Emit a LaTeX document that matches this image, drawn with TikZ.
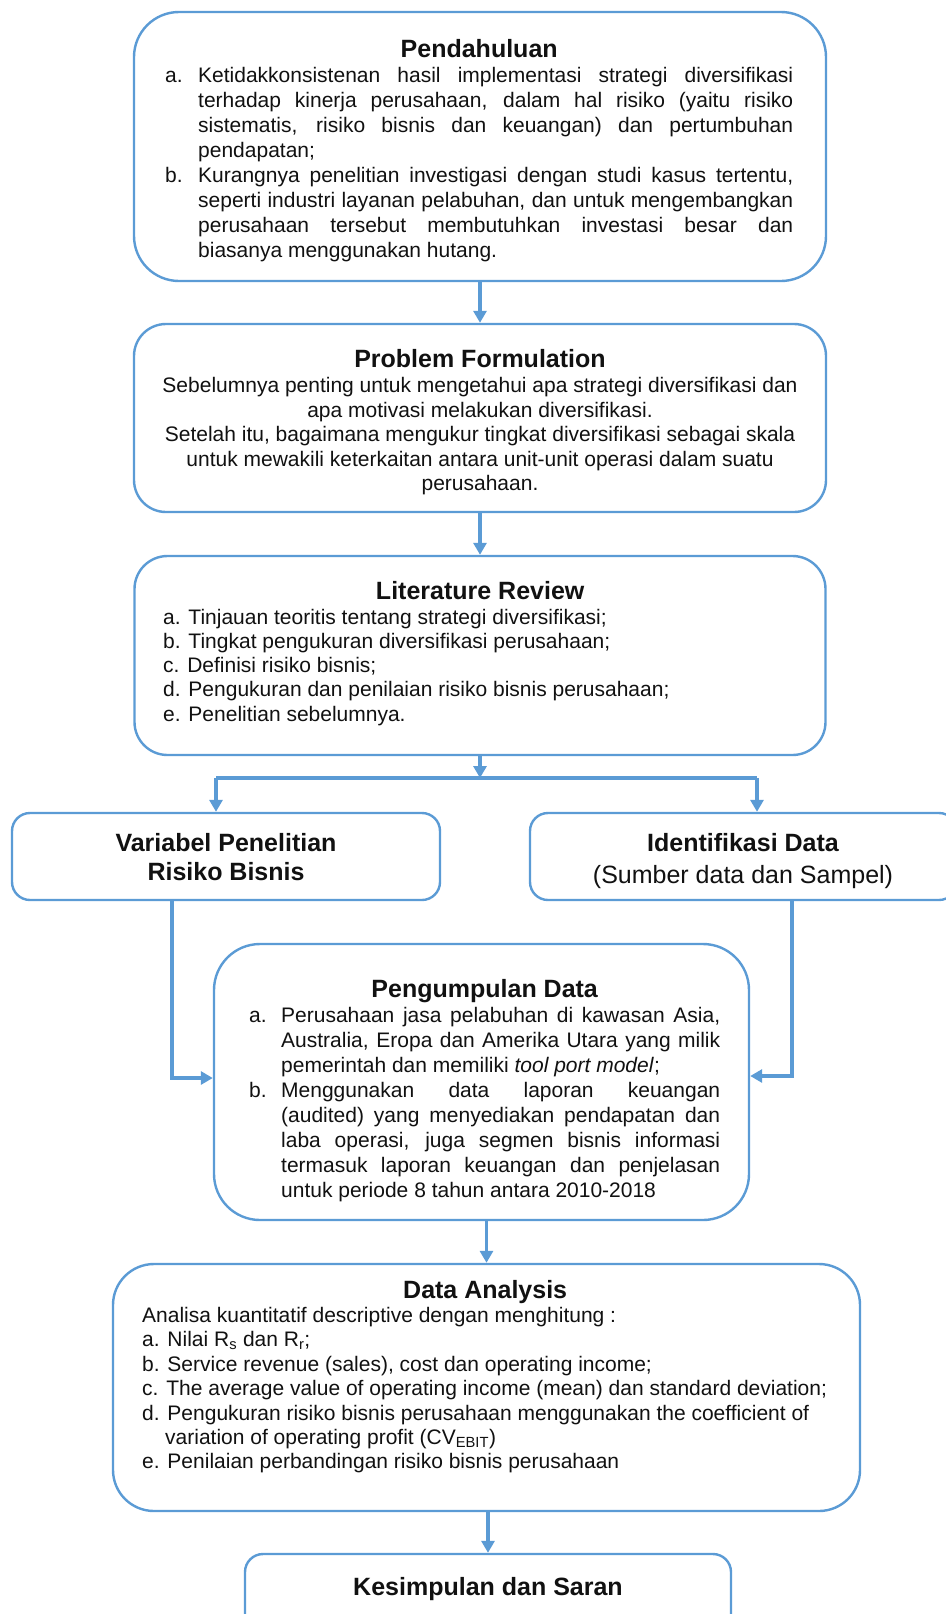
\documentclass[tikz,border=0pt]{standalone}
\usepackage{fontspec}
\setmainfont{Liberation Sans}
\usetikzlibrary{arrows.meta,calc}
\definecolor{wblue}{HTML}{5B9BD5}
\definecolor{ink}{HTML}{111111}
\newcommand{\tfont}{\fontsize{25}{29}\selectfont\bfseries}
\newcommand{\bfnt}[1]{\fontsize{21}{#1}\selectfont}
\newcommand{\litem}[2]{\par\hangindent=#1\hangafter=1\noindent\makebox[#1][l]{#2}}
\newcommand{\ttl}[1]{{\centering\tfont #1\par}}
\tikzset{
  box/.style={draw=wblue, line width=2.4pt, fill=white, inner sep=0pt},
  txt/.style={inner sep=0pt, text=ink},
  arr/.style={draw=wblue, line width=3.2pt, -{Triangle[length=12pt,width=13pt]}},
  lin/.style={draw=wblue, line width=3.2pt}
}
\begin{document}
\begin{tikzpicture}[x=1pt,y=-1pt]
\useasboundingbox (0,0) rectangle (945,1614);
% boxes
\node[box, minimum width=692pt, minimum height=269pt, rounded corners=45pt] (b1) at (480,146.5) {};
\node[box, minimum width=692pt, minimum height=188pt, rounded corners=32pt] (b2) at (480,418) {};
\node[box, minimum width=691pt, minimum height=199pt, rounded corners=33pt] (b3) at (480,655.5) {};
\node[box, minimum width=428pt, minimum height=87pt, rounded corners=18pt] (b4) at (226,856.5) {};
\node[box, minimum width=427pt, minimum height=87pt, rounded corners=18pt] (b5) at (743.5,856.5) {};
\node[box, minimum width=535pt, minimum height=276pt, rounded corners=46pt] (b6) at (481.5,1082) {};
\node[box, minimum width=747pt, minimum height=247pt, rounded corners=41pt] (b7) at (486.5,1387.5) {};
\node[box, minimum width=486pt, minimum height=100pt, rounded corners=18pt] (b8) at (488,1604) {};
% texts
\node[txt, anchor=base west] (t1) at (165,57) {\parbox[t]{628pt}{\emergencystretch=0pt\ttl{Pendahuluan}\bfnt{25.1}%
\litem{33pt}{a.}Ketidakkonsistenan hasil implementasi strategi diversifikasi\linebreak terhadap kinerja perusahaan, dalam hal risiko (yaitu risiko\linebreak sistematis, risiko bisnis dan keuangan) dan pertumbuhan\linebreak pendapatan;
\litem{33pt}{b.}Kurangnya penelitian investigasi dengan studi kasus tertentu,\linebreak seperti industri layanan pelabuhan, dan untuk mengembangkan\linebreak perusahaan tersebut membutuhkan investasi besar dan\linebreak biasanya menggunakan hutang.\par}};
\node[txt, anchor=base] (t2) at (480,367) {\parbox[t]{690pt}{\centering\ttl{Problem Formulation}\bfnt{24.5}\vspace{1pt}%
Sebelumnya penting untuk mengetahui apa strategi diversifikasi dan\\
apa motivasi melakukan diversifikasi.\\
Setelah itu, bagaimana mengukur tingkat diversifikasi sebagai skala\\
untuk mewakili keterkaitan antara unit-unit operasi dalam suatu\\
perusahaan.\par}};
\node[txt, anchor=base west] (t3) at (163,599) {\parbox[t]{634pt}{\ttl{Literature Review}\bfnt{24.2}\raggedright\vspace{1pt}%
a. Tinjauan teoritis tentang strategi diversifikasi;\\
b. Tingkat pengukuran diversifikasi perusahaan;\\
c. Definisi risiko bisnis;\\
d. Pengukuran dan penilaian risiko bisnis perusahaan;\\
e. Penelitian sebelumnya.\par}};
\node[txt, anchor=base] (t4) at (226,851) {\parbox[t]{420pt}{\centering\tfont Variabel Penelitian\\Risiko Bisnis\par}};
\node[txt, anchor=base] (t5) at (743,851) {\parbox[t]{420pt}{\centering\tfont Identifikasi Data\\[3pt]\mdseries (Sumber data dan Sampel)\par}};
\node[txt, anchor=base west] (t6) at (249,997) {\parbox[t]{471pt}{\ttl{Pengumpulan Data}\bfnt{25}%
\litem{32pt}{a.}Perusahaan jasa pelabuhan di kawasan Asia,\linebreak Australia, Eropa dan Amerika Utara yang milik\linebreak pemerintah dan memiliki \textit{tool port model};
\litem{32pt}{b.}Menggunakan data laporan keuangan\linebreak (audited) yang menyediakan pendapatan dan\linebreak laba operasi, juga segmen bisnis informasi\linebreak termasuk laporan keuangan dan penjelasan\linebreak untuk periode 8 tahun antara 2010-2018\par}};
\node[txt, anchor=base west] (t7) at (142,1298) {\parbox[t]{686pt}{\ttl{Data Analysis}\bfnt{24.4}\raggedright
Analisa kuantitatif descriptive dengan menghitung :\par
a. Nilai R\textsubscript{s} dan R\textsubscript{r};\par
b. Service revenue (sales), cost dan operating income;\par
c. The average value of operating income (mean) dan standard deviation;\par
\hangindent=23pt\hangafter=1 d. Pengukuran risiko bisnis perusahaan menggunakan the coefficient of\linebreak variation of operating profit (CV\textsubscript{EBIT})\par
e. Penilaian perbandingan risiko bisnis perusahaan\par}};
\node[txt, anchor=base] (t8) at (488,1595) {\tfont Kesimpulan dan Saran};
% connectors
\coordinate (fork) at (480,778);
\coordinate (forkL) at (216,778);
\coordinate (forkR) at (757,778);
\coordinate (c4) at (172,1078);
\coordinate (c5) at (792,1076);
\draw[arr] (b1.south) -- (b2.north);
\draw[arr] (b2.south) -- (b3.north);
\draw[arr] (b3.south) -- (fork);
\draw[lin] (forkL) -- (forkR);
\draw[arr] (forkL) -- (forkL |- b4.north);
\draw[arr] (forkR) -- (forkR |- b5.north);
\draw[arr] (c4 |- b4.south) -- (c4) -- (c4 -| b6.west);
\draw[arr] (c5 |- b5.south) -- (c5) -- (c5 -| b6.east);
\draw[arr] (b6.south -| b7.north) -- (b7.north);
\draw[arr] (b7.south -| b8.north) -- (b8.north);
\end{tikzpicture}
\end{document}
